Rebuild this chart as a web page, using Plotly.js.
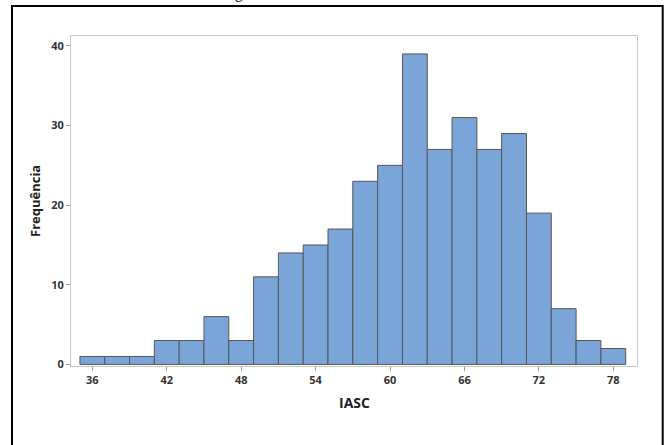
<!DOCTYPE html>
<html>
<head>
<meta charset="utf-8">
<script src="https://cdn.plot.ly/plotly-3.0.1.min.js"></script>
<style>
  html, body { margin: 0; padding: 0; background: #fff; }
  #chart { width: 672px; height: 445px; }
</style>
</head>
<body>
<div id="chart"></div>
<script>
// Histogram of IASC scores: bin centres (bin width 2) and counts per bin
const binCenters = [36, 38, 40, 42, 44, 46, 48, 50, 52, 54, 56, 58, 60, 62, 64, 66, 68, 70, 72, 74, 76, 78];
const counts     = [1, 1, 1, 3, 3, 6, 3, 11, 14, 15, 17, 23, 25, 39, 27, 31, 27, 29, 19, 7, 3, 2];
const xTicks     = [36, 42, 48, 54, 60, 66, 72, 78];
const yTicks     = [0, 10, 20, 30, 40];

const W = 672, H = 445;
const margin = { l: 71, r: 35, t: 36, b: 79 };
const plotW = W - margin.l - margin.r;
const plotH = H - margin.t - margin.b;
// pixel -> paper coordinate helpers for the surrounding frame and labels
const px = x => (x - margin.l) / plotW;
const py = y => 1 - (y - margin.t) / plotH;

const tickFont = { family: "Open Sans, DejaVu Sans, sans-serif", size: 11, color: "#333333", weight: "bold" };

const trace = {
  type: "bar",
  x: binCenters,
  y: counts,
  width: 2,
  marker: { color: "#7BA5D8", line: { color: "#555555", width: 1 } },
  hoverinfo: "x+y"
};

const layout = {
  width: W,
  height: H,
  margin: margin,
  paper_bgcolor: "#ffffff",
  plot_bgcolor: "#ffffff",
  showlegend: false,
  bargap: 0,
  xaxis: {
    range: [34.28, 79.91],
    tickvals: xTicks,
    ticktext: xTicks.map(String),
    ticks: "outside",
    ticklen: 4,
    tickcolor: "#999999",
    tickfont: tickFont,
    showgrid: false,
    zeroline: false,
    showline: true,
    linecolor: "#c8c8c8",
    linewidth: 1,
    mirror: true
  },
  yaxis: {
    range: [-0.2, 41.25],
    tickvals: yTicks,
    ticktext: yTicks.map(String),
    ticks: "outside",
    ticklen: 4,
    tickcolor: "#999999",
    tickfont: tickFont,
    showgrid: false,
    zeroline: false,
    showline: true,
    linecolor: "#c8c8c8",
    linewidth: 1,
    mirror: true
  },
  annotations: [
    {
      text: "Frequência",
      xref: "paper", yref: "paper",
      x: px(35), y: 0.5,
      xanchor: "center", yanchor: "middle",
      textangle: -90,
      showarrow: false,
      font: { family: "Open Sans, DejaVu Sans, sans-serif", size: 13, color: "#222222", weight: "bold" }
    },
    {
      text: "IASC",
      xref: "paper", yref: "paper",
      x: 0.5, y: py(402),
      xanchor: "center", yanchor: "middle",
      showarrow: false,
      font: { family: "Open Sans, DejaVu Sans, sans-serif", size: 14, color: "#222222", weight: "bold" }
    },
    {
      text: "Histograma de IASC",
      xref: "paper", yref: "paper",
      x: px(198), y: py(4),
      xanchor: "left", yanchor: "bottom",
      showarrow: false,
      font: { family: "Liberation Serif, Times New Roman, serif", size: 16, color: "#000000" }
    }
  ],
  shapes: [
    {
      type: "rect",
      xref: "paper", yref: "paper",
      x0: px(12), x1: px(662.7),
      y0: py(452), y1: py(6),
      line: { color: "#000000", width: 2 },
      fillcolor: "rgba(0,0,0,0)",
      layer: "above"
    }
  ]
};

Plotly.newPlot("chart", [trace], layout, { displayModeBar: false, staticPlot: true });
</script>
</body>
</html>
